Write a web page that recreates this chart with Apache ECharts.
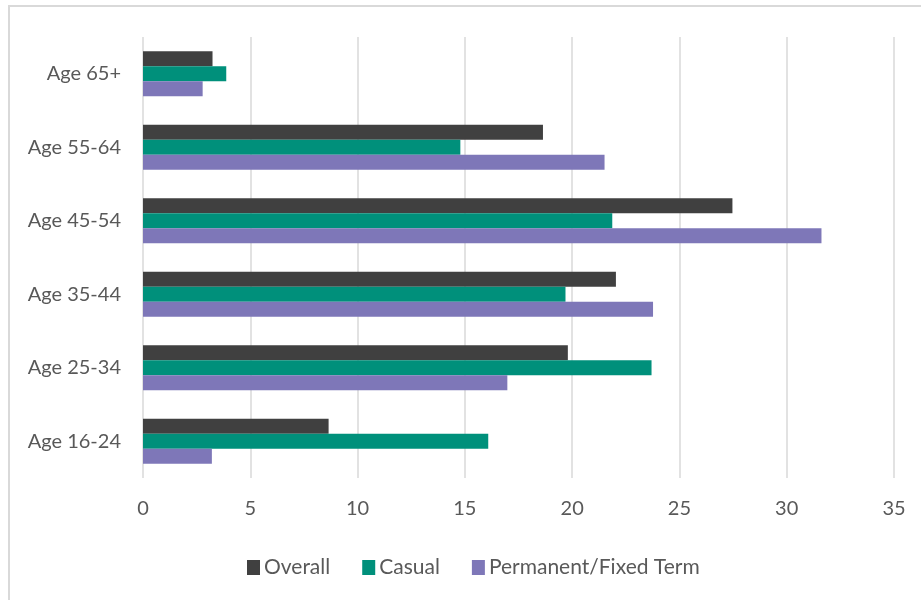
<!DOCTYPE html>
<html>
<head>
<meta charset="utf-8">
<script src="https://cdn.jsdelivr.net/npm/echarts@6/dist/echarts.min.js"></script>
<style>html,body{margin:0;padding:0;background:#fff}#c{width:921px;height:600px}</style>
</head>
<body>
<div id="c"></div>
<script>
const categories = ['Age 65+', 'Age 55-64', 'Age 45-54', 'Age 35-44', 'Age 25-34', 'Age 16-24'];
const overall = [3.24, 18.64, 27.47, 22.04, 19.8, 8.65];
const casual = [3.88, 14.79, 21.87, 19.69, 23.7, 16.09];
const permanent = [2.78, 21.51, 31.62, 23.77, 16.98, 3.21];
const seriesNames = ['Overall', 'Casual', 'Permanent/Fixed Term'];
const colors = ['#404040', '#00907B', '#7E77B8'];

const FONT = 'Lato';
const chart = echarts.init(document.getElementById('c'), null, {renderer: 'canvas'});
const mk = (name, data, color) => ({
  name, type: 'bar', data,
  itemStyle: {color},
  barGap: '0%', barCategoryGap: '39%'
});
chart.setOption({
  animation: false,
  backgroundColor: '#fff',
  color: colors,
  grid: {left: 143, right: 27, top: 37, bottom: 122, containLabel: false},
  xAxis: {
    type: 'value', min: 0, max: 35, interval: 5,
    axisLine: {show: false}, axisTick: {show: false},
    splitLine: {lineStyle: {color: '#d9d9d9', width: 1.5}},
    axisLabel: {color: '#595959', fontSize: 20, fontFamily: FONT, margin: 21}
  },
  yAxis: {
    type: 'category', data: categories, inverse: true,
    axisLine: {show: false}, axisTick: {show: false},
    axisLabel: {color: '#595959', fontSize: 20, fontFamily: FONT, margin: 22}
  },
  legend: {
    bottom: 17, left: 242,
    itemWidth: 13, itemHeight: 15, itemGap: 32,
    icon: 'rect',
    textStyle: {color: '#595959', fontSize: 21, fontFamily: FONT, padding: [0, 0, 0, -1]},
    data: seriesNames
  },
  graphic: [{
    type: 'rect', silent: true, z: -1,
    shape: {x: 9, y: 6, width: 940, height: 640},
    style: {fill: 'none', stroke: '#d9d9d9', lineWidth: 2}
  }],
  series: [
    mk(seriesNames[0], overall, colors[0]),
    mk(seriesNames[1], casual, colors[1]),
    mk(seriesNames[2], permanent, colors[2])
  ]
});
</script>
</body>
</html>
